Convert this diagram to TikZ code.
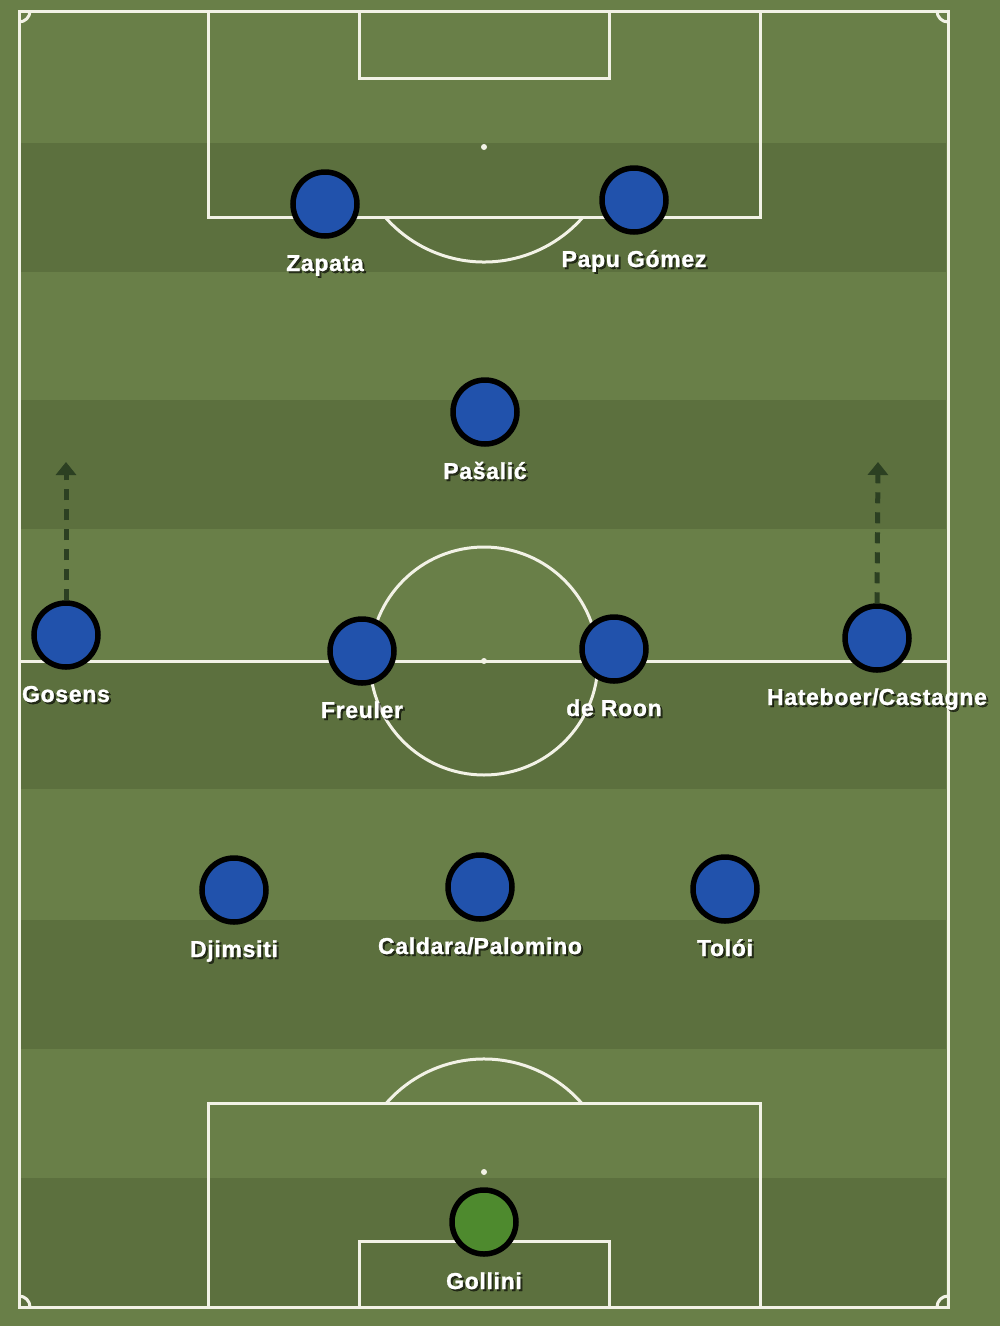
\documentclass[tikz,border=0pt]{standalone}
\usepackage{fontspec}
\usetikzlibrary{arrows.meta}
\newfontfamily\tagfont[LetterSpace=3,FakeBold=1.2]{Liberation Sans Bold}
\definecolor{grasslight}{RGB}{105,127,72}
\definecolor{grassdark}{RGB}{92,112,62}
\definecolor{chalk}{RGB}{242,242,230}
\definecolor{shirt}{RGB}{33,82,172}
\definecolor{keeper}{RGB}{78,138,46}
\definecolor{runline}{RGB}{44,64,34}
\begin{document}
\begin{tikzpicture}[x=1pt,y=-1pt,
  line/.style={chalk,line width=3pt},
  player/.style={circle,draw=black,line width=5.5pt,fill=shirt,minimum size=64pt,inner sep=0pt},
  tag/.style={text=white,font=\tagfont\fontsize{23}{25}\selectfont,anchor=base,inner sep=0pt},
  tagshadow/.style={tag,text=black,opacity=.6},
  run/.style={runline,line width=5pt,dash pattern=on 11pt off 9pt,-{Triangle[width=20pt,length=13pt]}}]
\useasboundingbox (0,0) rectangle (1000,1326);
% grass
\fill[grasslight] (0,0) rectangle (1000,1326);
\foreach \y in {143,400,660,920,1178}
  \fill[grassdark] (20,\y) rectangle (946,\y+129);
% pitch markings
\draw[line] (19,11) rectangle (948,1307);
\draw[line] (19,661) -- (948,661);
\draw[line] (484,661) circle[radius=114pt];
\fill[chalk] (484,661) circle[radius=3pt];
\draw[line] (208,11) -- (208,217) -- (760,217) -- (760,11);
\draw[line] (359,11) -- (359,78) -- (609,78) -- (609,11);
\fill[chalk] (484,147) circle[radius=3pt];
\draw[line] (385,217) arc[start angle=221.1,end angle=318.9,radius=131.4pt];
\draw[line] (208,1307) -- (208,1103) -- (760,1103) -- (760,1307);
\draw[line] (359,1307) -- (359,1241) -- (609,1241) -- (609,1307);
\fill[chalk] (484,1172) circle[radius=3pt];
\draw[line] (581.5,1103) arc[start angle=41.4,end angle=138.6,radius=130pt];
\draw[line] (30,11) arc[start angle=0,end angle=-90,radius=11pt];
\draw[line] (937,11) arc[start angle=180,end angle=270,radius=11pt];
\draw[line] (30,1307) arc[start angle=0,end angle=90,radius=11pt];
\draw[line] (948,1296) arc[start angle=90,end angle=180,radius=11pt];
% players
\foreach \nm/\x/\y in {zapata/325/204, gomez/634/200, pasalic/485/412,
    gosens/66/635, freuler/362/651, deroon/614/649, hateboer/877/638,
    djimsiti/234/890, caldara/480/887, toloi/725/889}
  \node[player] (\nm) at (\x,\y) {};
\node[player,fill=keeper] (gollini) at (484,1222) {};
\foreach \nm/\txt in {zapata/Zapata, gomez/Papu Gómez, pasalic/Pašalić,
    gosens/Gosens, freuler/Freuler, deroon/de Roon, hateboer/Hateboer\slash Castagne,
    djimsiti/Djimsiti, caldara/Caldara\slash Palomino, toloi/Tolói, gollini/Gollini} {
  \node[tagshadow] (\nm S) at ([xshift=2pt,yshift=-69pt]\nm.center) {\txt};
  \node[tag] (\nm T) at ([yshift=-67pt]\nm.center) {\txt};
}
% forward runs
\coordinate (gosensRun) at (66,462);
\coordinate (hateboerRun) at (878,462);
\draw[run] (gosens.north) -- (gosensRun);
\draw[run] (hateboer.north) -- (hateboerRun);
\end{tikzpicture}
\end{document}
